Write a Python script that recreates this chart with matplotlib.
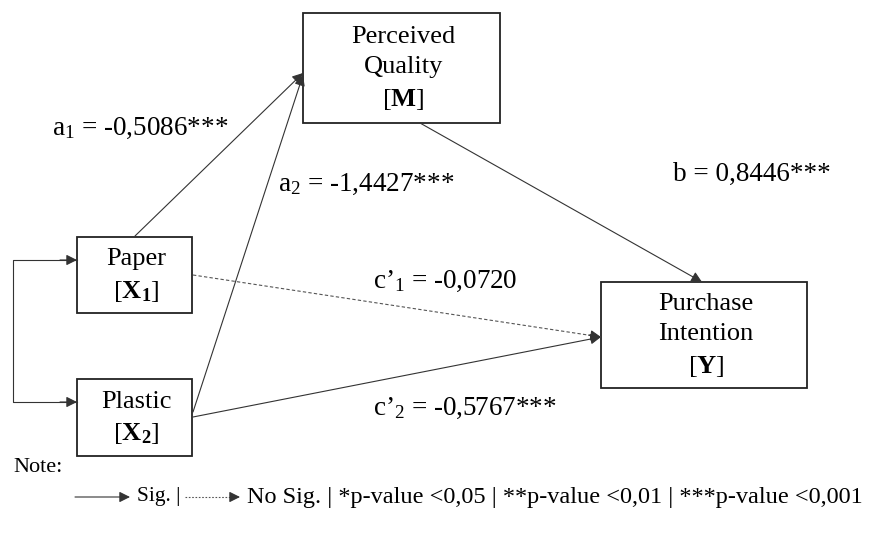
import matplotlib.pyplot as plt
from matplotlib.patches import Rectangle

plt.rcParams['font.family'] = ['Liberation Serif', 'DejaVu Serif']
plt.rcParams['mathtext.fontset'] = 'custom'
plt.rcParams['mathtext.rm'] = 'Liberation Serif'
plt.rcParams['mathtext.it'] = 'Liberation Serif'
plt.rcParams['mathtext.bf'] = 'Liberation Serif:bold'

# path coefficients
paths = ['a1', 'a2', 'b', 'c1', 'c2']
coefs = [-0.5086, -1.4427, 0.8446, -0.0720, -0.5767]
stars = ['***', '***', '***', '', '***']
names = [r'a$_1$', r'a$_2$', 'b', r'c’$_1$', r'c’$_2$']

def fmt(v):
    return f'{v:.4f}'.replace('.', ',')

fig = plt.figure(figsize=(8.82, 5.35), dpi=100)
ax = fig.add_axes([0, 0, 1, 1])
ax.set_xlim(0, 882)
ax.set_ylim(535, 0)
ax.axis('off')

# boxes: x0, y0, x1, y1, label
boxes = {
    'X1': (77, 237, 192, 313, 'Paper\n' + r'[$\mathbf{X}_\mathbf{1}$]'),
    'X2': (77, 379, 192, 456, 'Plastic\n' + r'[$\mathbf{X}_\mathbf{2}$]'),
    'M': (303, 13, 500, 123, 'Perceived\nQuality\n' + r'[$\mathbf{M}$]'),
    'Y': (601, 282, 807, 388, 'Purchase\nIntention\n' + r'[$\mathbf{Y}$]'),
}
for k, (x0, y0, x1, y1, lab) in boxes.items():
    ax.add_patch(Rectangle((x0, y0), x1 - x0, y1 - y0, fill=False, lw=1.3, ec='#222222'))
    ax.text((x0 + x1) / 2 + 2, (y0 + y1) / 2 + 1, lab, ha='center', va='center',
            fontsize=19, linespacing=1.45)

ap = dict(arrowstyle='-|>', color='#333333', lw=0.8, mutation_scale=16,
          shrinkA=0, shrinkB=0)

def arrow(p0, p1, dashed=False):
    if dashed:
        ax.plot([p0[0], p1[0]], [p0[1], p1[1]], color='#555555', lw=0.8,
                ls=(0, (3, 2)))
        t = 0.97
        p0 = (p0[0] + t * (p1[0] - p0[0]), p0[1] + t * (p1[1] - p0[1]))
    ax.annotate('', xy=p1, xytext=p0, arrowprops=ap)

arrow((135, 236), (303, 73))
arrow((193, 412), (303, 75))
arrow((420, 123), (702, 282))
arrow((193, 275), (601, 337), dashed=True)
arrow((193, 417), (601, 337))

# correlation bracket
ax.plot([77, 13, 13, 77], [260, 260, 402, 402], color='#333333', lw=0.8)
arrow((60, 260), (77, 260))
arrow((60, 402), (77, 402))

lab_pos = [(52, 128), (278, 184), (673, 174), (373, 281), (373, 408)]
for n, c, s, (x, y) in zip(names, coefs, stars, lab_pos):
    ax.text(x, y, f'{n} = {fmt(c)}{s}', ha='left', va='center', fontsize=19.5)

# note
ax.text(13, 467, 'Note:', ha='left', va='center', fontsize=16)
ax.annotate('', xy=(130, 497), xytext=(75, 497), arrowprops=ap)
ax.text(137, 497, 'Sig. |', ha='left', va='center', fontsize=15.5)
ax.plot([185, 236], [497, 497], color='#555555', lw=0.8, ls=(0, (1.5, 1.5)))
ax.annotate('', xy=(240, 497), xytext=(234, 497), arrowprops=ap)
ax.text(247, 497, 'No Sig. | *p-value <0,05 | **p-value <0,01 | ***p-value <0,001',
        ha='left', va='center', fontsize=17.5)

fig.savefig('out.png', dpi=100)
